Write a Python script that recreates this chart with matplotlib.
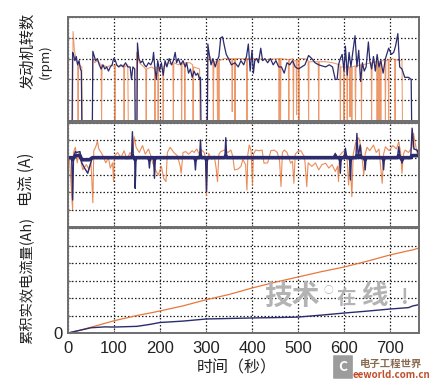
import matplotlib
matplotlib.use("Agg")
import matplotlib.pyplot as plt
from matplotlib.patches import FancyBboxPatch

plt.rcParams['font.family'] = ['Noto Sans CJK SC', 'DejaVu Sans']

# ---------------- data (time s, value) ----------------
# engine speed (x1000 rpm), vehicle A (navy)
rpm_a = [(0, 0), (9, 0), (10, 3.3), (12, 3.2), (15, 2.9), (18, 3.1), (21, 2.7), (24, 2.9), (27, 2.5), (29, 2.4),
         (30, 0), (53, 0), (54, 3.35), (56, 3.2), (60, 2.9), (64, 3.0), (68, 2.7), (72, 2.5), (76, 2.7), (80, 2.5),
         (84, 2.6), (88, 2.4), (92, 2.6), (96, 2.7), (99, 3.0), (103, 2.9), (106, 2.7), (110, 2.6), (115, 2.7),
         (120, 2.6), (125, 2.8), (130, 2.6), (135, 2.6), (138, 2.0), (141, 2.6), (145, 2.5), (146, 0), (150, 0),
         (151, 3.75), (154, 3.0), (158, 2.8), (162, 2.9), (166, 2.7), (170, 2.6), (175, 2.8), (180, 2.7),
         (184, 2.9), (186, 3.3), (189, 2.5), (192, 2.0), (195, 2.9), (199, 2.4), (203, 2.8), (207, 2.2),
         (211, 2.9), (215, 2.6), (220, 3.0), (225, 2.7), (229, 2.9), (233, 3.3), (236, 2.8), (240, 3.0),
         (245, 2.7), (250, 2.9), (255, 2.6), (258, 2.8), (262, 2.3), (266, 2.5), (270, 2.1), (274, 2.4),
         (278, 2.2), (282, 2.3), (286, 2.0), (288, 2.1), (289, 0), (303, 0), (304, 3.7), (307, 3.2), (311, 2.7),
         (315, 3.0), (320, 2.6), (324, 2.9), (328, 3.1), (332, 4.0), (336, 4.05), (340, 3.6), (344, 3.2),
         (349, 3.0), (355, 2.7), (363, 2.8), (370, 2.6), (376, 2.9), (382, 2.7), (388, 3.1), (392, 3.7),
         (396, 2.4), (400, 3.4), (403, 2.3), (406, 2.9), (410, 3.0), (414, 2.8), (419, 3.5), (423, 2.9),
         (428, 3.0), (434, 2.8), (440, 3.0), (446, 2.7), (452, 2.9), (458, 2.6), (464, 2.6), (470, 2.3),
         (476, 2.8), (482, 2.7), (488, 2.9), (494, 2.6), (501, 2.5), (508, 2.6), (515, 2.7), (523, 3.15),
         (530, 3.0), (537, 2.8), (545, 2.7), (552, 2.65), (560, 2.6), (568, 2.7), (575, 2.6), (581, 2.0),
         (585, 2.0), (588, 2.7), (592, 3.0), (596, 3.2), (600, 2.4), (603, 3.6), (607, 2.2), (611, 3.3),
         (615, 2.6), (619, 3.3), (624, 4.1), (628, 2.6), (632, 3.4), (636, 1.9), (640, 2.8), (644, 2.4),
         (648, 2.6), (653, 3.8), (656, 2.9), (660, 2.5), (664, 3.1), (668, 2.4), (672, 3.2), (676, 2.6),
         (680, 2.9), (685, 2.3), (690, 3.0), (697, 3.5), (703, 3.2), (708, 3.3), (712, 3.6), (717, 4.2),
         (721, 2.6), (726, 2.5), (732, 2.1), (740, 2.1), (746, 2.0), (747, 0), (749, 0)]

# engine speed (x1000 rpm), vehicle B (orange)
rpm_b = [(0, 0), (10, 0), (11, 4.3), (14, 3.4), (18, 2.9), (21, 2.7), (22, 0), (23, 2.7), (30, 2.6), (31, 0),
         (53, 0), (54, 3.0), (58, 2.8), (64, 2.9), (72, 2.7), (73, 0), (74, 2.7), (85, 2.6), (95, 2.7),
         (101, 2.6), (102, 0), (103, 2.7), (112, 2.6), (121, 2.7), (122, 0), (123, 2.6), (130, 2.7), (131, 0),
         (148, 0), (149, 3.3), (155, 2.8), (165, 2.6), (169, 2.5), (170, 0), (171, 2.5), (182, 2.6), (188, 2.5),
         (189, 0), (190, 2.6), (195, 2.5), (196, 0), (197, 2.6), (206, 2.5), (207, 0), (208, 2.6), (218, 2.8),
         (228, 2.7), (229, 0), (230, 2.8), (240, 2.7), (246, 2.8), (247, 0), (248, 2.8), (253, 2.7), (254, 0),
         (255, 2.8), (265, 2.8), (271, 2.7), (272, 0), (273, 2.6), (286, 2.5), (287, 0), (303, 0), (304, 3.4),
         (310, 3.0), (315, 2.8), (316, 0), (317, 2.8), (324, 2.9), (325, 0), (326, 2.9), (327, 2.9), (328, 0),
         (329, 2.9), (340, 3.0), (356, 3.0), (357, 0.45), (358, 3.0), (362, 3.0), (363, 0), (364, 3.0),
         (375, 3.0), (388, 3.0), (389, 0), (390, 3.0), (410, 3.0), (430, 2.95), (458, 3.0), (459, 0), (460, 3.0),
         (461, 3.0), (462, 0), (463, 3.0), (479, 2.95), (480, 0), (481, 2.95), (489, 3.0), (490, 0), (491, 2.9),
         (496, 2.9), (497, 0.3), (498, 2.9), (501, 2.9), (502, 0), (503, 3.0), (515, 3.0), (522, 2.9), (523, 0),
         (524, 2.85), (535, 2.85), (544, 2.85), (545, 0), (546, 2.85), (560, 2.85), (575, 2.8), (591, 2.7),
         (592, 0), (593, 2.6), (599, 2.6), (600, 0), (601, 2.6), (606, 2.6), (607, 0), (608, 2.6), (612, 2.6),
         (613, 0.2), (614, 2.6), (616, 2.6), (617, 0), (618, 2.6), (624, 2.65), (625, 0), (626, 2.65),
         (637, 2.7), (638, 0), (639, 2.7), (650, 2.75), (659, 2.8), (660, 0), (661, 2.8), (671, 2.85), (672, 0),
         (673, 2.85), (675, 2.85), (676, 0), (677, 2.85), (679, 2.9), (680, 0), (681, 2.9), (689, 2.9), (690, 0),
         (691, 2.9), (696, 2.95), (697, 0), (698, 2.95), (705, 3.0), (710, 2.95), (711, 0), (712, 2.95),
         (720, 2.9), (726, 2.9), (727, 0)]

# current (gridline = 1 unit), vehicle A (navy)
cur_a = [(0, 0), (8, 0), (10, -2.44), (12, 0), (16, 0.35), (18, 0.3), (26, 0.35), (30, -0.3), (36, -0.6),
         (43, -0.9), (47, -0.5), (53, 0), (138, 0), (140, 1.5), (142, 0), (145, 0), (146, -1.77), (148, 0),
         (175, 0), (177, -0.6), (179, 0), (186, 0), (188, -1.19), (190, 0), (275, 0), (277, -0.71), (279, 0),
         (286, 0), (288, 1.02), (290, 0), (299, 0), (301, -1.96), (303, 0), (341, 0), (343, 1.15), (345, 0),
         (579, 0), (581, 0.25), (583, 0), (590, 0), (592, -0.9), (594, 0), (600, 0), (603, 0.54), (606, 0),
         (612, 0), (614, -1.29), (616, 0), (626, 0), (628, 1.4), (631, 0), (635, 0.73), (638, 0), (644, 0),
         (646, -0.71), (648, 0), (684, 0), (686, -0.7), (688, 0), (716, 0), (719, 0.63), (722, 0), (724, 0),
         (726, -0.32), (729, 0), (745, 0), (748, 1.7), (752, 0.5), (759, 0.44), (763, 0.1)]

# current, vehicle B (orange)
cur_b = [(0, 0.06), (3, 0.06), (10, -3.0), (12, 0.3), (16, 0.6), (20, -0.3), (25, 0.35), (28, -0.2), (32, -0.7),
         (40, -0.4), (46, -0.7), (50, -0.3), (54, -2.6), (56, 0.4), (60, 0.6), (64, 0.95), (67, 0.5), (72, 0.3),
         (76, 0.1), (82, -0.3), (88, 0.0), (92, -0.6), (97, -0.3), (99, -1.38), (101, 0.1), (108, 0.3),
         (115, 0.0), (122, 0.4), (128, -0.1), (135, 0.3), (140, 0.1), (144, 1.2), (148, 0.6), (155, 0.3),
         (162, 0.7), (168, 0.2), (175, 0.5), (180, 0.1), (184, -0.3), (190, -0.7), (196, -1.0), (203, -0.5),
         (208, -1.2), (213, -1.38), (216, 0.3), (222, 0.6), (230, 0.3), (238, 0.1), (244, -0.5), (246, -0.9),
         (250, 0.3), (256, 0.35), (262, 0.2), (270, 0.4), (274, 0.3), (280, 0.5), (285, 0.2), (290, 0.45),
         (296, 0.3), (300, -0.2), (301, -2.2), (303, -0.3), (306, 0.25), (312, -0.1), (318, 0.1), (322, -0.6),
         (325, -1.38), (328, 0.2), (332, 0.35), (340, 0.44), (348, 0.3), (354, 0.44), (358, 0.1), (362, -0.71),
         (370, -0.65), (376, -0.5), (380, -0.1), (386, -0.4), (389, -1.87), (391, 0.2), (394, 0.73), (398, 0.4),
         (401, -1.58), (403, 0.2), (408, 0.44), (415, 0.4), (422, 0.44), (426, -0.32), (434, -0.3), (441, 0.4),
         (448, 0.44), (455, 0.3), (460, -0.2), (463, -1.67), (466, 0.3), (470, 0.44), (476, 0.3), (484, -0.32),
         (488, -0.2), (491, -1.48), (494, 0.2), (499, 0.35), (506, 0.4), (513, 0.1), (515, -0.2), (519, -1.67),
         (522, -0.3), (530, -0.5), (538, -0.3), (545, -0.71), (552, -0.4), (560, -0.32), (567, -0.6),
         (574, -0.4), (581, -0.8), (586, -0.5), (588, -1.38), (590, 0.1), (596, 0.3), (603, 0.44), (607, -0.2),
         (610, -1.58), (613, 0.1), (617, -2.25), (620, 0.2), (625, 0.83), (632, 1.15), (637, 0.6), (643, -1.0),
         (646, 0.2), (650, 0.6), (656, 0.4), (664, 0.73), (670, 0.3), (676, 0.5), (683, -1.48), (686, 0.2),
         (690, 0.63), (698, 0.4), (706, 0.7), (714, 0.5), (719, 0.92), (723, 0.3), (726, -0.9), (729, 0.2),
         (733, 0.44), (740, 0.3), (748, 0.6), (751, 1.4), (755, 0.8), (759, 0.25), (763, 0.1)]

# accumulated effective current (Ah, gridline = 1 unit)
ah_t = [0, 25, 50, 80, 100, 150, 180, 200, 250, 300, 350, 400, 450, 500, 550, 600, 650, 700, 740, 750, 763]
ah_a = [0, 0.15, 0.3, 0.35, 0.34, 0.38, 0.5, 0.6, 0.68, 0.8, 0.83, 0.86, 0.88, 0.91, 1.02, 1.14, 1.25, 1.37,
        1.45, 1.55, 1.62]
ah_b = [0, 0.15, 0.33, 0.55, 0.7, 1.0, 1.15, 1.26, 1.55, 1.9, 2.2, 2.57, 2.9, 3.2, 3.5, 3.77, 4.1, 4.46,
        4.7, 4.75, 4.86]

x_ticks = [0, 100, 200, 300, 400, 500, 600, 700]


def unzip(pairs):
    return [p[0] for p in pairs], [p[1] for p in pairs]


# ---------------- style ----------------
NAVY = '#2b2b6e'
ORANGE = '#e8773a'
SPINE = '#6e6e6e'
GRID = dict(color='#222222', linestyle=(0, (1.2, 1.6)), linewidth=0.9)

fig = plt.figure(figsize=(4.30, 3.83), dpi=100)
W, H = 430.0, 383.0


def axes_px(x0, y0, x1, y1):
    return fig.add_axes([x0 / W, 1 - y1 / H, (x1 - x0) / W, (y1 - y0) / H])


ax1 = axes_px(68, 17, 419, 121)
ax2 = axes_px(68, 123, 419, 227)
ax3 = axes_px(68, 228, 419, 333)

for ax in (ax1, ax2, ax3):
    ax.set_xlim(0, 763)
    ax.set_xticks(x_ticks)
    for s in ax.spines.values():
        s.set_color(SPINE)
        s.set_linewidth(1.4)
    ax.grid(True, **GRID)
    ax.set_axisbelow(True)
    ax.tick_params(direction='in', length=2.5, color=SPINE, labelbottom=False, labelleft=False)

ax1.set_ylim(0, 5)
ax1.set_yticks([0, 1, 2, 3, 4, 5])
ax1.plot(*unzip(rpm_b), color=ORANGE, lw=0.75, alpha=0.75)
ax1.plot(*unzip(rpm_a), color=NAVY, lw=0.9)

ax2.set_ylim(-4, 2)
ax2.set_yticks([-4, -3, -2, -1, 0, 1, 2])
ax2.plot(*unzip(cur_b), color=ORANGE, lw=0.8, alpha=0.85)
ca_t, ca_v = unzip(cur_a)
ax2.plot(ca_t, [max(-0.12, min(0.12, v)) for v in ca_v], color=NAVY, lw=2.6, solid_capstyle='butt')
ax2.plot(ca_t, ca_v, color=NAVY, lw=1.0)

ax3.set_ylim(0, 6)
ax3.set_yticks([0, 1, 2, 3, 4, 5, 6])
ax3.set_yticklabels(['0', '', '', '', '', '', ''])
ax3.plot(ah_t, ah_b, color=ORANGE, lw=0.9)
ax3.plot(ah_t, ah_a, color=NAVY, lw=1.0)
ax3.tick_params(labelbottom=True, labelleft=True, labelsize=12)
ax3.tick_params(axis='x', pad=6)
ax3.tick_params(axis='y', pad=4)
for lab in ax3.get_xticklabels() + ax3.get_yticklabels():
    lab.set_family(['Liberation Sans', 'DejaVu Sans'])
    lab.set_color('#222222')


def ftxt(x, y, s, **kw):
    fig.text(x / W, 1 - y / H, s, ha='center', va='center', **kw)


ftxt(28, 51, '发动机转数', rotation=90, fontsize=11, color='#222222')
ftxt(45, 62, '(rpm)', rotation=90, fontsize=9.5, color='#222222')
ftxt(26, 179, '电流 (A)', rotation=90, fontsize=11, color='#222222')
ftxt(26, 280, '累积实效电流量(Ah)', rotation=90, fontsize=10.3, color='#222222')
ftxt(237, 368, '时间（秒）', fontsize=11.5, color='#222222')

# watermark
WM = '#b3b3b3'
ftxt(292, 297, '技术', fontsize=20, color=WM, fontweight='bold')
ftxt(328, 290, '○', fontsize=7, color=WM)
ftxt(346, 299, '在', fontsize=14, color=WM, fontweight='bold')
ftxt(374, 297, '线', fontsize=19, color=WM, fontweight='bold')
ftxt(405, 297, '!', fontsize=15, color=WM, fontweight='bold')

# logo
box = FancyBboxPatch((334 / W, 1 - 378 / H), 18 / W, 22 / H,
                     boxstyle='round,pad=0.002', transform=fig.transFigure,
                     facecolor='#9c9c9c', edgecolor='none')
fig.patches.append(box)
ftxt(343, 367, 'C', fontsize=10, color='white', fontweight='bold')
ftxt(391, 364, '电子工程世界', fontsize=7.5, color='#8a6b52', fontweight='bold')
ftxt(391, 375, 'eeworld.com.cn', fontsize=7, color='#c24d28', style='italic', fontweight='bold')

fig.savefig('out.png', dpi=100)
